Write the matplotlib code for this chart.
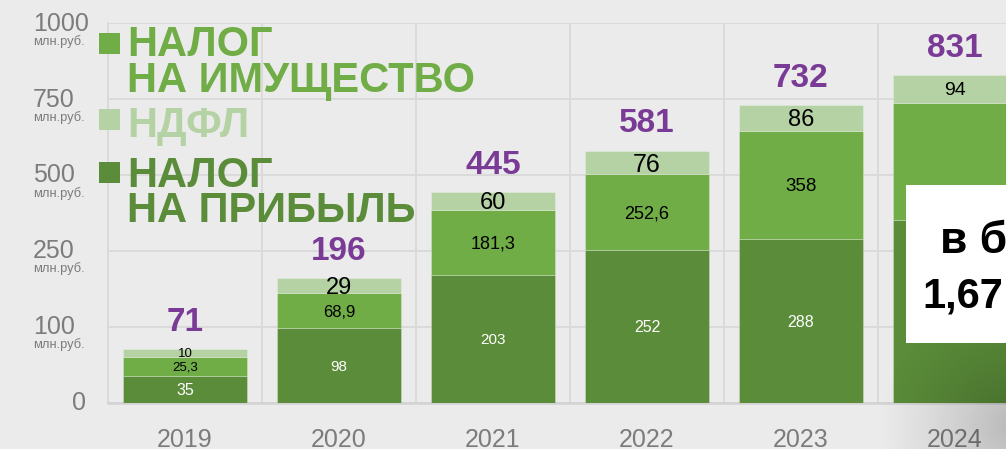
import numpy as np
import matplotlib
matplotlib.use("Agg")
import matplotlib.pyplot as plt
from matplotlib.patches import Rectangle

plt.rcParams['font.family'] = ['Liberation Sans', 'DejaVu Sans']

# ---------------- data ----------------
years = ['2019', '2020', '2021', '2022', '2023', '2024']
profit_tax = [35, 98, 203, 252, 288, 351]          # налог на прибыль
property_tax = [25.3, 68.9, 181.3, 252.6, 358, 386]  # налог на имущество
ndfl = [10, 29, 60, 76, 86, 94]                     # НДФЛ
totals = [71, 196, 445, 581, 732, 831]
profit_labels = ['35', '98', '203', '252', '288', '']
property_labels = ['25,3', '68,9', '181,3', '252,6', '358', '']
ndfl_labels = ['10', '29', '60', '76', '86', '94']
total_labels = ['71', '196', '445', '581', '732', '831']
tick_values = [0, 100, 250, 500, 750, 1000]
tick_labels = ['0', '100', '250', '500', '750', '1000']
unit_label = 'млн.руб.'
legend_lines = [['НАЛОГ', 'НА ИМУЩЕСТВО'], ['НДФЛ'], ['НАЛОГ', 'НА ПРИБЫЛЬ']]
box_lines = ['в б', '1,67']

# ---------------- style ----------------
W, H = 1006, 449
BG = '#ebebeb'
GRID = '#d9d9d9'
C_DARK = '#5a8c39'
C_MID = '#70ad46'
C_LIGHT = '#b5d2a4'
PURPLE = '#7a3b96'
TICK_GREY = '#7c7c7c'

ndfl_sizes = [9.5, 17, 17, 18, 17, 14]
property_sizes = [9.5, 12, 13, 13, 13.5, 12]
profit_sizes = [11.5, 11, 11, 11.5, 11.5, 11]

fig = plt.figure(figsize=(W / 100, H / 100), dpi=100, facecolor=BG)
ax = fig.add_axes([108 / W, (H - 402.5) / H, 924 / W, 379.2 / H])
ax.set_facecolor(BG)

knots = np.arange(len(tick_values), dtype=float)


def fwd(v):
    return np.interp(v, tick_values, knots)


def inv(p):
    return np.interp(p, knots, tick_values)


ax.set_yscale('function', functions=(fwd, inv))
ax.set_ylim(0, 1000)
x = np.arange(len(years))
ax.set_xlim(-0.5, len(years) - 0.5)

# grid
ax.set_yticks(tick_values)
ax.tick_params(axis='y', length=0, labelleft=False)
ax.yaxis.grid(True, color=GRID, lw=1.3, zorder=0)
ax.set_xticks(np.arange(-0.5, len(years), 1.0), minor=True)
ax.xaxis.grid(True, which='minor', color=GRID, lw=1.3, zorder=0)
ax.set_xticks(x)
ax.set_xticklabels(years, fontsize=18, color=TICK_GREY)
ax.tick_params(axis='x', which='both', length=0, pad=18.5)
ax.set_axisbelow(True)
for s in ['top', 'right']:
    ax.spines[s].set_visible(False)
ax.spines['left'].set_color(GRID)
ax.spines['left'].set_linewidth(1.3)
ax.spines['bottom'].set_color('#d3d3d3')
ax.spines['bottom'].set_linewidth(1.8)

# bars
edge = (1, 1, 1, 0.25)
b1 = np.array(profit_tax, dtype=float)
b2 = b1 + np.array(property_tax)
ax.bar(x, profit_tax, width=0.8, color=C_DARK, edgecolor=edge, lw=0.7, zorder=3)
ax.bar(x, property_tax, width=0.8, bottom=b1, color=C_MID, edgecolor=edge, lw=0.7, zorder=3)
ax.bar(x, ndfl, width=0.8, bottom=b2, color=C_LIGHT, edgecolor=edge, lw=0.7, zorder=3)


def mid(lo, hi):
    return inv((fwd(lo) + fwd(hi)) / 2.0)


for i in range(len(years)):
    lo0, lo1, lo2 = 0.0, b1[i], b2[i]
    top = b2[i] + ndfl[i]
    if profit_labels[i]:
        ax.text(i, mid(lo0, lo1), profit_labels[i], ha='center', va='center_baseline',
                fontsize=profit_sizes[i], color='white', zorder=4)
    if property_labels[i]:
        ax.text(i, mid(lo1, lo2), property_labels[i], ha='center', va='center_baseline',
                fontsize=property_sizes[i], color='black', zorder=4)
    if ndfl_labels[i]:
        ax.text(i, mid(lo2, top), ndfl_labels[i], ha='center', va='center_baseline',
                fontsize=ndfl_sizes[i], color='black', zorder=4)
    ax.annotate(total_labels[i], xy=(i, totals[i]), xytext=(0, 13), textcoords='offset points',
                ha='center', va='baseline', fontsize=24, fontweight='bold', color=PURPLE,
                zorder=4, annotation_clip=False)

# y tick labels with units
for v, lab in zip(tick_values, tick_labels):
    xpos = 72 / W if v == 0 else 33 / W
    ax.annotate(lab, xy=(xpos, v), xycoords=('figure fraction', 'data'),
                xytext=(0, -5.4), textcoords='offset points', ha='left', va='baseline',
                fontsize=18, color=TICK_GREY, annotation_clip=False)
    if v != 0:
        ax.annotate(unit_label, xy=(33 / W, v), xycoords=('figure fraction', 'data'),
                    xytext=(0, -15.5), textcoords='offset points', ha='left', va='baseline',
                    fontsize=9.3, color=TICK_GREY, annotation_clip=False)

# overlay (pixel coordinates) for legend, shadow and box
ov = fig.add_axes([0, 0, 1, 1], zorder=5)
ov.set_xlim(0, W)
ov.set_ylim(H, 0)
ov.axis('off')
ov.patch.set_alpha(0)

# shadow gradient near bottom-right
yy, xx = np.mgrid[0:H, 0:W]
d = np.hypot(xx - 1015.0, (yy - 425.0) * 1.1)
alpha = 0.22 * np.clip(1 - d / 140.0, 0, 1) ** 1.2
img = np.zeros((H, W, 4))
img[..., 3] = alpha
ov.imshow(img, extent=(0, W, H, 0), aspect='auto', zorder=1, interpolation='bilinear')

# legend
leg_colors = [C_MID, C_LIGHT, C_DARK]
leg_square_top = [33.3, 109.3, 162.0]
leg_baselines = [[56.5, 92.0], [137.0], [187.0, 222.0]]
for lines, col, sq, bls in zip(legend_lines, leg_colors, leg_square_top, leg_baselines):
    ov.add_patch(Rectangle((99.3, sq), 21, 21, facecolor=col, edgecolor='none', zorder=3))
    for ln, bl in zip(lines, bls):
        ov.text(127, bl, ln, ha='left', va='baseline', fontsize=30, fontweight='bold',
                color=col, zorder=3)

# white info box (cut by right edge)
ov.add_patch(Rectangle((906, 185), 140, 158, facecolor='white', edgecolor='none', zorder=6))
ov.text(940, 253, box_lines[0], ha='left', va='baseline', fontsize=32, fontweight='bold',
        color='black', zorder=7)
ov.text(922, 307, box_lines[1], ha='left', va='baseline', fontsize=30, fontweight='bold',
        color='black', zorder=7)

fig.savefig('out.png', dpi=100, facecolor=BG)
